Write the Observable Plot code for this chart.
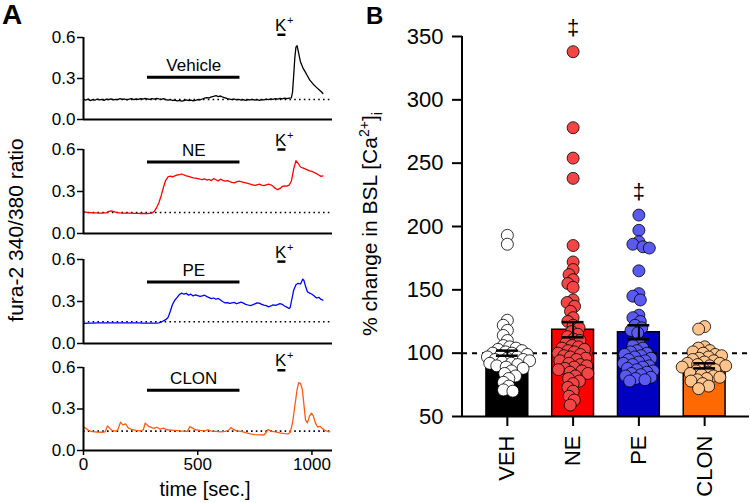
<!DOCTYPE html>
<html><head><meta charset="utf-8">
<script src="https://cdn.jsdelivr.net/npm/d3@7"></script>
<script src="https://cdn.jsdelivr.net/npm/@observablehq/plot@0.6"></script>
<style>
body{margin:0;background:#fff;font-family:"Liberation Sans",Arial,Helvetica,sans-serif;}
#fig{position:relative;width:750px;height:503px;overflow:hidden;background:#fff;}
#fig > svg{position:absolute;}
</style></head><body><div id="fig"></div>
<script>
// ---------- Panel A data (time [s], fura-2 ratio) ----------
const vehTrace = [[0,.148],[10,.142],[20,.150],[30,.138],[40,.146],[50,.141],[60,.150],[70,.144],[80,.147],[90,.140],[100,.149],[110,.145],[120,.151],[130,.143],[140,.148],[150,.146],[160,.152],[170,.147],[180,.150],[190,.144],[200,.149],[210,.152],[220,.146],[230,.150],[240,.148],[250,.153],[260,.149],[270,.155],[280,.150],[290,.147],[300,.153],[310,.149],[320,.155],[330,.151],[340,.148],[350,.152],[360,.146],[370,.142],[380,.145],[390,.139],[400,.142],[410,.136],[420,.140],[430,.134],[440,.139],[450,.143],[460,.138],[470,.142],[480,.136],[490,.140],[500,.145],[510,.143],[520,.150],[530,.156],[540,.160],[550,.158],[560,.165],[570,.170],[580,.174],[590,.168],[600,.172],[610,.163],[620,.158],[630,.152],[640,.149],[650,.146],[660,.150],[670,.144],[680,.147],[690,.142],[700,.145],[710,.140],[720,.146],[730,.143],[740,.147],[750,.141],[760,.145],[770,.140],[780,.146],[790,.143],[800,.149],[810,.145],[820,.151],[830,.147],[840,.153],[850,.149],[860,.155],[870,.151],[880,.157],[890,.152],[900,.156],[910,.158],[915,.20],[920,.32],[925,.45],[930,.53],[935,.54],[940,.50],[945,.46],[950,.42],[960,.38],[970,.35],[980,.32],[990,.29],[1000,.27],[1010,.25],[1020,.235],[1030,.22],[1040,.205],[1048,.19]];
const neTrace = [[0,.157],[10,.152],[20,.150],[30,.149],[40,.148],[50,.147],[60,.147],[70,.146],[80,.146],[90,.147],[100,.148],[110,.156],[120,.162],[130,.158],[140,.152],[150,.149],[160,.147],[170,.146],[180,.146],[190,.145],[200,.145],[210,.145],[220,.144],[230,.144],[240,.144],[250,.143],[260,.143],[270,.143],[280,.143],[290,.144],[300,.146],[310,.158],[320,.185],[330,.22],[340,.27],[350,.33],[360,.38],[370,.405],[380,.41],[390,.405],[400,.412],[410,.418],[420,.42],[430,.425],[440,.418],[450,.412],[460,.408],[470,.402],[480,.398],[490,.395],[500,.392],[510,.388],[520,.385],[530,.39],[540,.382],[550,.386],[560,.378],[570,.392],[580,.384],[590,.376],[600,.388],[610,.38],[620,.374],[630,.378],[640,.37],[650,.365],[660,.362],[670,.368],[680,.374],[690,.37],[700,.366],[710,.362],[720,.358],[730,.352],[740,.348],[750,.344],[760,.348],[770,.352],[780,.346],[790,.342],[800,.348],[810,.352],[820,.348],[830,.338],[840,.322],[850,.312],[860,.322],[870,.336],[880,.34],[890,.338],[900,.345],[910,.375],[920,.46],[930,.52],[940,.50],[950,.475],[960,.468],[970,.462],[980,.455],[990,.448],[1000,.444],[1010,.436],[1020,.428],[1030,.418],[1040,.408],[1048,.412]];
const peTrace = [[0,.143],[20,.145],[40,.146],[60,.147],[80,.147],[100,.148],[120,.148],[140,.148],[160,.148],[180,.148],[200,.147],[220,.147],[240,.147],[260,.146],[280,.146],[300,.146],[320,.146],[330,.148],[340,.152],[350,.162],[360,.17],[370,.185],[380,.23],[390,.28],[400,.31],[410,.33],[420,.35],[430,.36],[440,.352],[450,.358],[460,.345],[470,.352],[480,.34],[490,.348],[500,.342],[510,.336],[520,.34],[530,.345],[540,.335],[550,.328],[560,.32],[570,.325],[580,.316],[590,.322],[600,.31],[610,.298],[620,.29],[630,.292],[640,.286],[650,.29],[660,.294],[670,.284],[680,.29],[690,.296],[700,.288],[710,.28],[720,.275],[730,.27],[740,.276],[750,.283],[760,.29],[770,.288],[780,.28],[790,.274],[800,.27],[810,.262],[820,.268],[830,.276],[840,.272],[850,.278],[860,.285],[870,.28],[880,.268],[890,.26],[900,.25],[905,.258],[910,.30],[920,.38],[930,.42],[940,.43],[950,.425],[960,.46],[965,.45],[970,.42],[980,.37],[990,.36],[1000,.352],[1010,.34],[1020,.325],[1030,.33],[1040,.315],[1048,.31]];
const clonTrace = [[0,.17],[10,.16],[20,.148],[30,.14],[40,.136],[60,.133],[80,.132],[95,.135],[105,.178],[115,.16],[125,.145],[140,.14],[150,.148],[162,.205],[172,.185],[184,.192],[195,.165],[210,.152],[230,.145],[250,.142],[262,.15],[270,.198],[285,.175],[300,.165],[310,.16],[320,.168],[335,.155],[350,.162],[365,.15],[380,.148],[400,.145],[420,.142],[440,.14],[455,.138],[465,.172],[478,.162],[490,.15],[510,.145],[530,.142],[545,.15],[560,.14],[580,.138],[600,.135],[620,.138],[635,.145],[645,.165],[655,.155],[670,.142],[690,.138],[710,.13],[730,.12],[750,.115],[770,.113],[790,.112],[800,.13],[808,.152],[820,.14],[840,.135],[860,.128],[880,.122],[895,.12],[905,.13],[915,.2],[925,.32],[935,.44],[942,.49],[950,.485],[958,.44],[965,.33],[972,.22],[980,.2],[990,.25],[998,.27],[1006,.25],[1015,.2],[1025,.17],[1035,.175],[1045,.16],[1055,.148],[1065,.14],[1077,.135]];

const traces = [vehTrace, neTrace, peTrace, clonTrace];
const stimLabels = ["Vehicle", "NE", "PE", "CLON"];
const traceColors = ["#000000", "#ff0000", "#0000ff", "#ff5a14"];
const stimStart = 280, stimEnd = 685;
const stimLevels = [0.31, 0.51, 0.44, 0.435];
const kStart = 851, kEnd = 886;
const kLevels = [0.62, 0.60, 0.585, 0.58];
const baselines = [0.146, 0.15, 0.155, 0.14];
const yTicksA = [0, 0.3, 0.6];
const xTicksA = [0, 500, 1000];
const xMax = 1090;

// ---------- Panel B data (% change in BSL [Ca2+]i) ----------
const groups = ["VEH", "NE", "PE", "CLON"];
const means = [100, 118.5, 116.5, 90];
const sems = [2, 6, 5.5, 2];
const vehPts = [193,186,126,122,118,114,110,106,105,104,103,102,101,100,100,99,98,97,97,96,95,95,94,93,92,92,91,90,89,88,86,84,82,80,77,74,71,70];
const nePts = [338,278,254,238,185,172,166,162,158,155,152,142,140,137,133,128,125,122,120,117,115,113,111,110,108,106,105,104,103,102,101,100,99,98,97,96,95,94,92,91,90,89,88,87,86,85,84,82,80,78,76,73,70,66,63,59];
const pePts = [209,197,188,186,184,183,165,147,145,142,130,128,125,122,120,118,116,108,106,104,102,101,100,99,98,97,96,95,94,93,92,91,90,89,88,87,86,85,84,83,82,81,80,79,78];
const clonPts = [121,119,105,104,102,101,100,99,98,97,96,95,94,93,92,92,91,90,90,89,88,87,86,85,84,83,82,81,80,79,78,76,74,72];
const groupPoints = [vehPts, nePts, pePts, clonPts];
const barColors = ["#000000", "#ff0000", "#0000c0", "#ff6a00"];
const pointColors = ["#ffffff", "#f24646", "#5a5af2", "#ffc48c"];
const sigGroups = ["NE", "PE"];
const sigY = [357, 227];
const yTicksB = [50, 100, 150, 200, 250, 300, 350];

// ---------- build ----------
const fig = document.getElementById("fig");
const FONT = "Liberation Sans, Arial, Helvetica, sans-serif";
const baseStyle = {background: "transparent", overflow: "visible", fontFamily: FONT, color: "#000"};

// Panel A layout (pixel positions of y=0.6 and y=0 for each trace)
const panelTops = [37, 149, 259, 367];
const panelBottoms = [119, 233, 343, 450];

traces.forEach((data, i) => {
  const top = panelTops[i], bottom = panelBottoms[i];
  const showX = i === 3;
  const mt = 34, mb = showX ? 503 - bottom : 4;
  const stim = [{x1: stimStart, x2: stimEnd, y: stimLevels[i], label: stimLabels[i]}];
  const k = [{x1: kStart, x2: kEnd, y: kLevels[i]}];
  const marks = [
    Plot.ruleY([baselines[i]], {x1: 0, x2: xMax, stroke: "#000", strokeWidth: 1.6, strokeDasharray: "1.6,3.2"}),
    Plot.line(data, {x: d => d[0], y: d => d[1], stroke: traceColors[i], strokeWidth: 1.3}),
    Plot.ruleX([0], {y1: 0, y2: 0.6, stroke: "#000", strokeWidth: 2}),
    Plot.ruleY([0], {x1: 0, x2: xMax, stroke: "#000", strokeWidth: 2}),
    Plot.axisY({ticks: yTicksA, tickFormat: ".1f", tickSize: 6, tickPadding: 2, strokeWidth: 1.5, fontSize: 17, label: null}),
    Plot.ruleY(stim, {x1: "x1", x2: "x2", y: "y", stroke: "#000", strokeWidth: 3}),
    Plot.text(stim, {x: d => (d.x1 + d.x2) / 2, y: "y", text: "label", dy: -6, lineAnchor: "bottom", fontSize: 17}),
    Plot.ruleY(k, {x1: "x1", x2: "x2", y: "y", stroke: "#000", strokeWidth: 2.5}),
    Plot.text(k, {x: "x1", y: "y", text: () => "K", dx: -3, dy: -4, textAnchor: "start", lineAnchor: "bottom", fontSize: 17}),
    Plot.text(k, {x: "x1", y: "y", text: () => "+", dx: 9, dy: -11, textAnchor: "start", lineAnchor: "bottom", fontSize: 11})
  ];
  if (showX) marks.push(Plot.axisX({ticks: xTicksA, tickFormat: "d", tickSize: 5, tickPadding: 2, strokeWidth: 1.5, fontSize: 17, label: null}));
  const p = Plot.plot({
    width: 340, height: bottom - top + mt + mb,
    marginLeft: 83, marginRight: 8, marginTop: mt, marginBottom: mb,
    x: showX ? {domain: [0, xMax]} : {domain: [0, xMax], axis: null},
    y: {domain: [0, 0.6]},
    style: {...baseStyle, fontSize: "17px"},
    marks
  });
  p.style.left = "0px";
  p.style.top = (top - mt) + "px";
  fig.append(p);
});

// Panel B
const barData = groups.map((g, i) => ({group: g, mean: means[i], sem: sems[i], fill: barColors[i]}));
const pts = groups.flatMap((g, i) => groupPoints[i].map(v => ({group: g, value: v, fill: pointColors[i]})));
const sig = sigGroups.map((g, i) => ({group: g, y: sigY[i]}));
const B = {width: 410, height: 503, marginLeft: 122, marginRight: 1, marginTop: 36, marginBottom: 87};
const pad = 0.364;
const bandOpts = {domain: groups, paddingInner: pad, paddingOuter: pad, align: 0.5, round: false};

const yAxisLine = (index, scales, values, dims) => {
  const l = document.createElementNS("http://www.w3.org/2000/svg", "line");
  l.setAttribute("x1", dims.marginLeft); l.setAttribute("x2", dims.marginLeft);
  l.setAttribute("y1", scales.y(50) + 1); l.setAttribute("y2", scales.y(350));
  l.setAttribute("stroke", "#000"); l.setAttribute("stroke-width", 2);
  return l;
};

const B1 = Plot.plot({
  ...B,
  style: {...baseStyle, fontSize: "22px"},
  x: bandOpts,
  y: {domain: [50, 350]},
  color: {type: "identity"},
  marks: [
    Plot.barY(barData, {x: "group", y1: 50, y2: "mean", fill: "fill", stroke: "#000", strokeWidth: 1.5}),
    Plot.ruleY([100], {stroke: "#000", strokeWidth: 2, strokeDasharray: "5,5"}),
    Plot.ruleY([50], {stroke: "#000", strokeWidth: 2}),
    yAxisLine,
    Plot.axisY({ticks: yTicksB, tickSize: 10, tickPadding: 9, strokeWidth: 2, fontSize: 22, label: null}),
    Plot.axisX({tickSize: 10, tickPadding: 9, tickRotate: -90, strokeWidth: 2, fontSize: 22, label: null}),
    Plot.text(sig, {x: "group", y: "y", text: () => "‡", fontSize: 22})
  ]
});
B1.style.left = "340px"; B1.style.top = "0px";
fig.append(B1);

const B2 = Plot.plot({
  ...B,
  style: baseStyle,
  fx: {...bandOpts, axis: null},
  y: {domain: [50, 350], axis: null},
  color: {type: "identity"},
  marks: [
    Plot.dot(pts, Plot.dodgeX({anchor: "middle", padding: -5.5}, {fx: "group", y: "value", r: 6, fill: "fill", stroke: "#000", strokeWidth: 0.8}))
  ]
});
B2.style.left = "340px"; B2.style.top = "0px";
fig.append(B2);

const B3 = Plot.plot({
  ...B,
  style: baseStyle,
  x: {...bandOpts, axis: null},
  y: {domain: [50, 350], axis: null},
  marks: [
    Plot.ruleX(barData, {x: "group", y1: d => d.mean - d.sem, y2: d => d.mean + d.sem, stroke: "#000", strokeWidth: 2}),
    Plot.tickY(barData, {x: "group", y: d => d.mean - d.sem, insetLeft: 10, insetRight: 10, stroke: "#000", strokeWidth: 2.5}),
    Plot.tickY(barData, {x: "group", y: d => d.mean + d.sem, insetLeft: 10, insetRight: 10, stroke: "#000", strokeWidth: 2.5})
  ]
});
B3.style.left = "340px"; B3.style.top = "0px";
fig.append(B3);

// Titles and panel letters
const NS = "http://www.w3.org/2000/svg";
const ov = document.createElementNS(NS, "svg");
ov.setAttribute("width", 750); ov.setAttribute("height", 503);
ov.style.left = "0px"; ov.style.top = "0px"; ov.style.pointerEvents = "none";
ov.innerHTML = `
<g font-family="${FONT}" fill="#000">
  <text x="2" y="24" font-size="28" font-weight="bold">A</text>
  <text x="366" y="24" font-size="24" font-weight="bold">B</text>
  <text transform="translate(23,230) rotate(-90)" text-anchor="middle" font-size="21">fura-2 340/380 ratio</text>
  <text x="205" y="496" text-anchor="middle" font-size="20">time [sec.]</text>
  <text transform="translate(377,224) rotate(-90)" text-anchor="middle" font-size="21">% change in BSL [Ca<tspan font-size="14" dy="-8">2+</tspan><tspan dy="8">]</tspan><tspan font-size="14" dy="5">i</tspan></text>
</g>`;
fig.append(ov);
</script></body></html>
